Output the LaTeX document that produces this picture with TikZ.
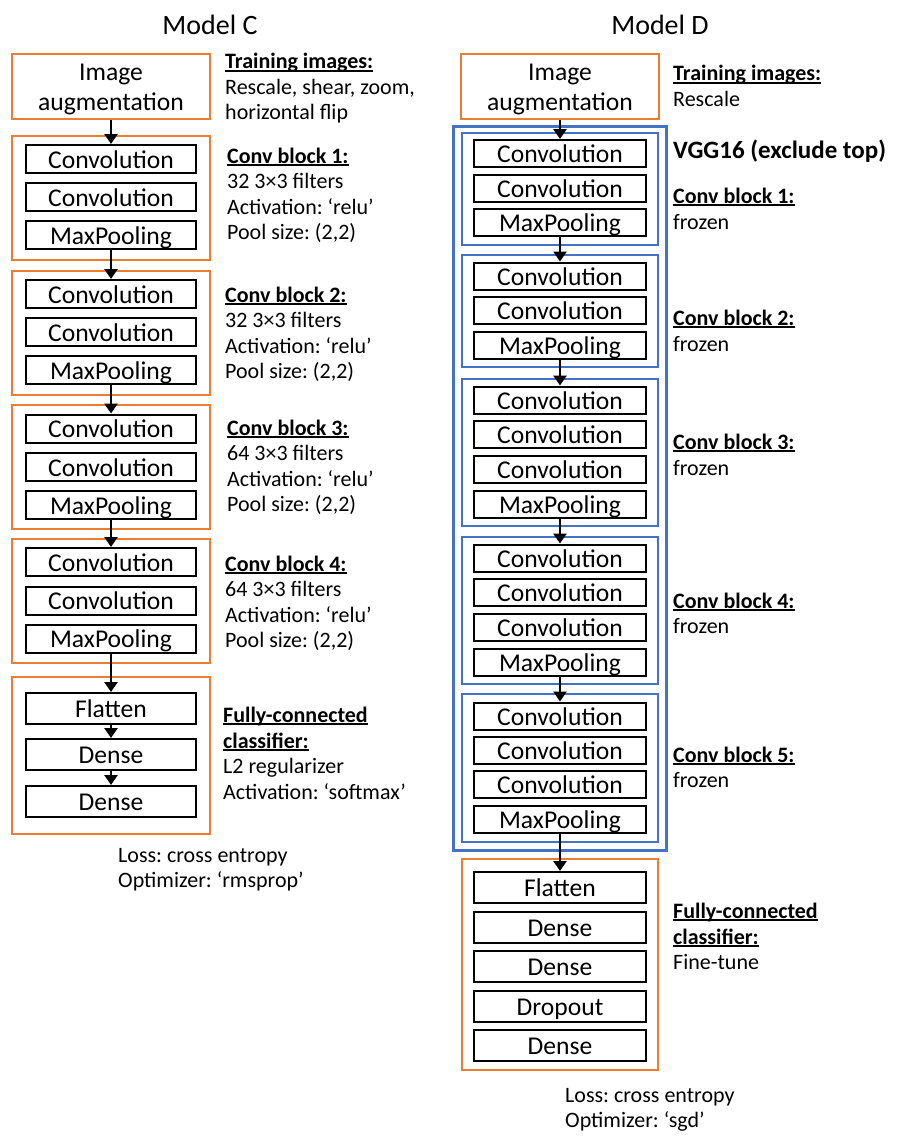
\documentclass[tikz,border=0pt]{standalone}
\usepackage{fontspec}
\setmainfont{Carlito}
\usetikzlibrary{arrows.meta}
\definecolor{orng}{HTML}{ED7D31}
\definecolor{blu}{HTML}{4472C4}
\newcommand\myul[1]{\setbox0\hbox{\bfseries #1}\rlap{\rule[-2.8pt]{\wd0}{1.4pt}}\box0}
\frenchspacing
\begin{document}
\begin{tikzpicture}[x=1pt,y=-1pt,
  boxtext/.style={font=\fontsize{25.6}{30}\selectfont},
  layerC/.style={boxtext,draw=black,line width=2pt,minimum width=170pt,minimum height=28pt,inner sep=0pt,text height=20pt,text depth=1.4pt},
  layerD/.style={layerC,minimum width=172pt,minimum height=27pt},
  fcl/.style={layerC,minimum height=31pt},
  fcld/.style={layerD,minimum height=31pt},
  aug/.style={boxtext,draw=orng,line width=2pt,minimum width=198pt,minimum height=65pt,inner sep=0pt,align=center},
  oblk/.style={draw=orng,line width=2pt,minimum width=198pt,inner sep=0pt},
  bblk/.style={draw=blu,line width=2pt,minimum width=196pt,inner sep=0pt},
  note/.style={anchor=base west,inner sep=0pt,font=\fontsize{22}{25}\selectfont},
  ttl/.style={anchor=base,inner sep=0pt,font=\fontsize{28}{34}\selectfont},
  arr/.style={line width=2.8pt,-{Triangle[width=13pt,length=10pt]}}
]
\useasboundingbox (0,0) rectangle (900,1140);

% ---------------- Titles
\node[ttl] (tC) at (210,35) {Model C};
\node[ttl] (tD) at (660,35) {Model D};

% ---------------- Model C
\node[aug] (Caug) at (111,86.5) {\rule{0pt}{22pt}Image\\augmentation};
\node[oblk,minimum height=123.5pt] (Cb1) at (111,197.75) {};
\node[oblk,minimum height=124pt] (Cb2) at (111,333) {};
\node[oblk,minimum height=124pt] (Cb3) at (111,467) {};
\node[oblk,minimum height=124pt] (Cb4) at (111,601) {};
\node[oblk,minimum height=157pt] (Cfc) at (111,755.5) {};

\node[layerC] (C1a) at (111,159) {Convolution};
\node[layerC] (C1b) at (111,197) {Convolution};
\node[layerC] (C1c) at (111,235) {MaxPooling};
\node[layerC] (C2a) at (111,294) {Convolution};
\node[layerC] (C2b) at (111,332) {Convolution};
\node[layerC] (C2c) at (111,370) {MaxPooling};
\node[layerC] (C3a) at (111,428.5) {Convolution};
\node[layerC] (C3b) at (111,467) {Convolution};
\node[layerC] (C3c) at (111,505) {MaxPooling};
\node[layerC] (C4a) at (111,562) {Convolution};
\node[layerC] (C4b) at (111,600.5) {Convolution};
\node[layerC] (C4c) at (111,638.5) {MaxPooling};
\node[fcl] (Cfl) at (111,708.5) {Flatten};
\node[fcl] (Cd1) at (111,754.5) {Dense};
\node[fcl] (Cd2) at (111,801.5) {Dense};

\draw[arr] (Caug) -- (C1a);
\draw[arr] (C1c) -- (C2a);
\draw[arr] (C2c) -- (C3a);
\draw[arr] (C3c) -- (C4a);
\draw[arr] (C4c) -- (Cfl);
\draw[arr] (Cfl) -- (Cd1);
\draw[arr] (Cd1) -- (Cd2);

\node[note] (nC0a) at (225,69) {\myul{Training images:}};
\node[note] (nC0b) at (225,94) {Rescale, shear, zoom,};
\node[note] (nC0c) at (225,119) {horizontal flip};

\node[note] (nC1a) at (227,163) {\myul{Conv block 1:}};
\node[note] (nC1b) at (227,188.5) {32 3×3 filters};
\node[note] (nC1c) at (227,214) {Activation: ‘relu’};
\node[note] (nC1d) at (227,239.5) {Pool size: (2,2)};

\node[note] (nC2a) at (225,302) {\myul{Conv block 2:}};
\node[note] (nC2b) at (225,327.5) {32 3×3 filters};
\node[note] (nC2c) at (225,353) {Activation: ‘relu’};
\node[note] (nC2d) at (225,378.5) {Pool size: (2,2)};

\node[note] (nC3a) at (227,435) {\myul{Conv block 3:}};
\node[note] (nC3b) at (227,460.5) {64 3×3 filters};
\node[note] (nC3c) at (227,486) {Activation: ‘relu’};
\node[note] (nC3d) at (227,511.5) {Pool size: (2,2)};

\node[note] (nC4a) at (225,571) {\myul{Conv block 4:}};
\node[note] (nC4b) at (225,596.5) {64 3×3 filters};
\node[note] (nC4c) at (225,622) {Activation: ‘relu’};
\node[note] (nC4d) at (225,647.5) {Pool size: (2,2)};

\node[note] (nC5a) at (223,722) {\myul{Fully-connected}};
\node[note] (nC5b) at (223,748) {\myul{classifier:}};
\node[note] (nC5c) at (223,773) {L2 regularizer};
\node[note] (nC5d) at (223,799) {Activation: ‘softmax’};

\node[note] (nC6a) at (118,862) {Loss: cross entropy};
\node[note] (nC6b) at (118,887) {Optimizer: ‘rmsprop’};

% ---------------- Model D
\node[aug] (Daug) at (560,86.5) {\rule{0pt}{22pt}Image\\augmentation};
\node[draw=blu,line width=3pt,minimum width=213pt,minimum height=724pt,inner sep=0pt] (Dvgg) at (560,488.5) {};
\node[bblk,minimum height=112pt] (Db1) at (560,189) {};
\node[bblk,minimum height=112pt] (Db2) at (560,311) {};
\node[bblk,minimum height=147pt] (Db3) at (560,452.5) {};
\node[bblk,minimum height=147pt] (Db4) at (560,610.5) {};
\node[bblk,minimum height=148pt] (Db5) at (560,768) {};
\node[oblk,minimum width=196pt,minimum height=211pt] (Dfc) at (560,964.5) {};

\node[layerD] (D1a) at (560,153.5) {Convolution};
\node[layerD] (D1b) at (560,188) {Convolution};
\node[layerD] (D1c) at (560,222.5) {MaxPooling};
\node[layerD] (D2a) at (560,276) {Convolution};
\node[layerD] (D2b) at (560,310) {Convolution};
\node[layerD] (D2c) at (560,345) {MaxPooling};
\node[layerD] (D3a) at (560,400) {Convolution};
\node[layerD] (D3b) at (560,434) {Convolution};
\node[layerD] (D3c) at (560,469) {Convolution};
\node[layerD] (D3d) at (560,504) {MaxPooling};
\node[layerD] (D4a) at (560,558) {Convolution};
\node[layerD] (D4b) at (560,592) {Convolution};
\node[layerD] (D4c) at (560,627) {Convolution};
\node[layerD] (D4d) at (560,662) {MaxPooling};
\node[layerD] (D5a) at (560,716) {Convolution};
\node[layerD] (D5b) at (560,750) {Convolution};
\node[layerD] (D5c) at (560,784.5) {Convolution};
\node[layerD] (D5d) at (560,819.5) {MaxPooling};
\node[fcld] (Dfl) at (560,887.5) {Flatten};
\node[fcld] (Dd1) at (560,927.5) {Dense};
\node[fcld] (Dd2) at (560,966.5) {Dense};
\node[fcld] (Ddo) at (560,1006.5) {Dropout};
\node[fcld] (Dd3) at (560,1045.5) {Dense};

\draw[arr] (Daug) -- (D1a);
\draw[arr] (D1c) -- (D2a);
\draw[arr] (D2c) -- (D3a);
\draw[arr] (D3d) -- (D4a);
\draw[arr] (D4d) -- (D5a);
\draw[arr] (D5d) -- (Dfl);

\node[note] (nD0a) at (673,81) {\myul{Training images:}};
\node[note] (nD0b) at (673,106) {Rescale};
\node[note,font=\fontsize{25}{30}\selectfont\bfseries] (nDv) at (673,158) {VGG16 (exclude top)};
\node[note] (nD1a) at (673,203) {\myul{Conv block 1:}};
\node[note] (nD1b) at (673,229) {frozen};
\node[note] (nD2a) at (673,325) {\myul{Conv block 2:}};
\node[note] (nD2b) at (673,351) {frozen};
\node[note] (nD3a) at (673,449) {\myul{Conv block 3:}};
\node[note] (nD3b) at (673,475) {frozen};
\node[note] (nD4a) at (673,608) {\myul{Conv block 4:}};
\node[note] (nD4b) at (673,633) {frozen};
\node[note] (nD5a) at (673,762) {\myul{Conv block 5:}};
\node[note] (nD5b) at (673,787) {frozen};
\node[note] (nD6a) at (673,918) {\myul{Fully-connected}};
\node[note] (nD6b) at (673,944) {\myul{classifier:}};
\node[note] (nD6c) at (673,969) {Fine-tune};
\node[note] (nD7a) at (565,1102) {Loss: cross entropy};
\node[note] (nD7b) at (565,1127) {Optimizer: ‘sgd’};
\end{tikzpicture}
\end{document}
